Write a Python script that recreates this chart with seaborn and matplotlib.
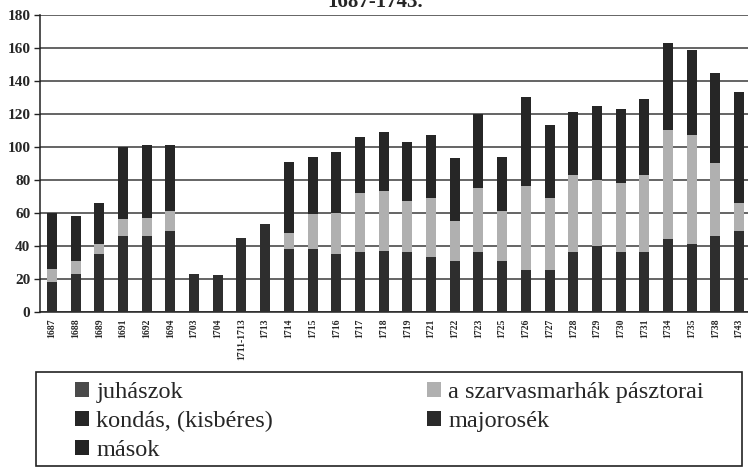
import numpy as np
import pandas as pd
import matplotlib.pyplot as plt
import seaborn as sns
from matplotlib.patches import Rectangle, Patch

# years (x categories) and the stacked groups, bottom to top
years = ["1687", "1688", "1689", "1691", "1692", "1694", "1703", "1704", "1711-1713", "1713",
         "1714", "1715", "1716", "1717", "1718", "1719", "1721", "1722", "1723", "1725",
         "1726", "1727", "1728", "1729", "1730", "1731", "1734", "1735", "1738", "1743"]
juhaszok = [18, 23, 35, 46, 46, 49, 23, 22, 45, 53,
            38, 38, 35, 36, 37, 36, 33, 31, 36, 31,
            25, 25, 36, 40, 36, 36, 44, 41, 46, 49]
szarvasmarha = [8, 8, 6, 10, 11, 12, 0, 0, 0, 0,
                10, 21, 25, 36, 36, 31, 36, 24, 39, 30,
                51, 44, 47, 40, 42, 47, 66, 66, 44, 17]
kondas = [34, 27, 25, 44, 44, 40, 0, 0, 0, 0,
          43, 35, 37, 34, 36, 36, 38, 38, 45, 33,
          54, 44, 38, 45, 45, 46, 53, 52, 55, 67]
majorosek = [0, 0, 0, 0, 0, 0, 0, 0, 0, 0,
             0, 0, 0, 0, 0, 0, 0, 0, 0, 0,
             0, 0, 0, 0, 0, 0, 0, 0, 0, 0]
masok = [0, 0, 0, 0, 0, 0, 0, 0, 0, 0,
         0, 0, 0, 0, 0, 0, 0, 0, 0, 0,
         0, 0, 0, 0, 0, 0, 0, 0, 0, 0]

labels = ["juhászok", "a szarvasmarhák pásztorai", "kondás, (kisbéres)", "majorosék", "mások"]
colors = ["#2e2e2e", "#b0b0b0", "#262626", "#2a2a2a", "#232323"]

sns.set_theme(style="white")
plt.rcParams['font.family'] = ['Liberation Serif', 'DejaVu Serif']

df = pd.DataFrame({"year": years, "juh": juhaszok, "sz": szarvasmarha,
                   "ko": kondas, "ma": majorosek, "mo": masok})
cols = ["juh", "sz", "ko", "ma", "mo"]

fig = plt.figure(figsize=(7.48, 4.67), dpi=100)
ax = fig.add_axes([40 / 748, 155.3 / 467, 711 / 748, 296.7 / 467])

# stacked bars: draw cumulative sums from the top down
for i in range(len(cols) - 1, -1, -1):
    cum = df[cols[:i + 1]].sum(axis=1)
    sns.barplot(x=df["year"], y=cum, color=colors[i], width=0.42, saturation=1,
                edgecolor="none", order=years, ax=ax, zorder=3)

ax.set_ylim(0, 180)
ax.set_xlim(-0.5, len(years) - 0.5)
ax.set_yticks(range(0, 181, 20))
ax.yaxis.grid(True, color="#3a3a3a", linewidth=1.1)
ax.set_axisbelow(True)
for s in ["top", "right"]:
    ax.spines[s].set_visible(False)
for s in ["left", "bottom"]:
    ax.spines[s].set_color("#222222")
    ax.spines[s].set_linewidth(1.1)
ax.set_xlabel("")
ax.set_ylabel("")

ax.set_xticks(range(len(years)))
ax.set_xticklabels(years, rotation=90, fontsize=7, fontweight="bold")
ax.set_xticks(np.arange(-0.5, len(years), 1), minor=True)
ax.tick_params(axis="x", which="major", length=0, pad=5)
ax.tick_params(axis="x", which="minor", length=4, width=1, color="#222222", direction="out")
ax.tick_params(axis="y", length=4, width=1, color="#222222", direction="out", left=True, pad=3)
for t in ax.get_yticklabels():
    t.set_fontsize(11)
    t.set_fontweight("bold")

fig.text(375 / 748, 1 - 7 / 467, "1687-1743.", ha="center", va="baseline",
         fontsize=15, fontweight="bold")

# legend box
fig.patches.append(Rectangle((36 / 748, 1 / 467), 706 / 748, 94 / 467, transform=fig.transFigure,
                             fill=False, edgecolor="#222222", linewidth=1.2))
h = [Patch(facecolor=c, edgecolor="none") for c in colors]
h[0] = Patch(facecolor="#4a4a4a", edgecolor="none")
leg_kw = dict(frameon=False, fontsize=17.5, handlelength=0.58, handleheight=0.58,
              handletextpad=0.3, labelspacing=0.32, borderpad=0, borderaxespad=0,
              loc="upper left")
fig.legend([h[0], h[2], h[4]], [labels[0], labels[2], labels[4]],
           bbox_to_anchor=(75 / 748, 1 - 382 / 467), **leg_kw)
fig.legend([h[1], h[3]], [labels[1], labels[3]],
           bbox_to_anchor=(427 / 748, 1 - 382 / 467), **leg_kw)

fig.savefig("out.png", dpi=100)
